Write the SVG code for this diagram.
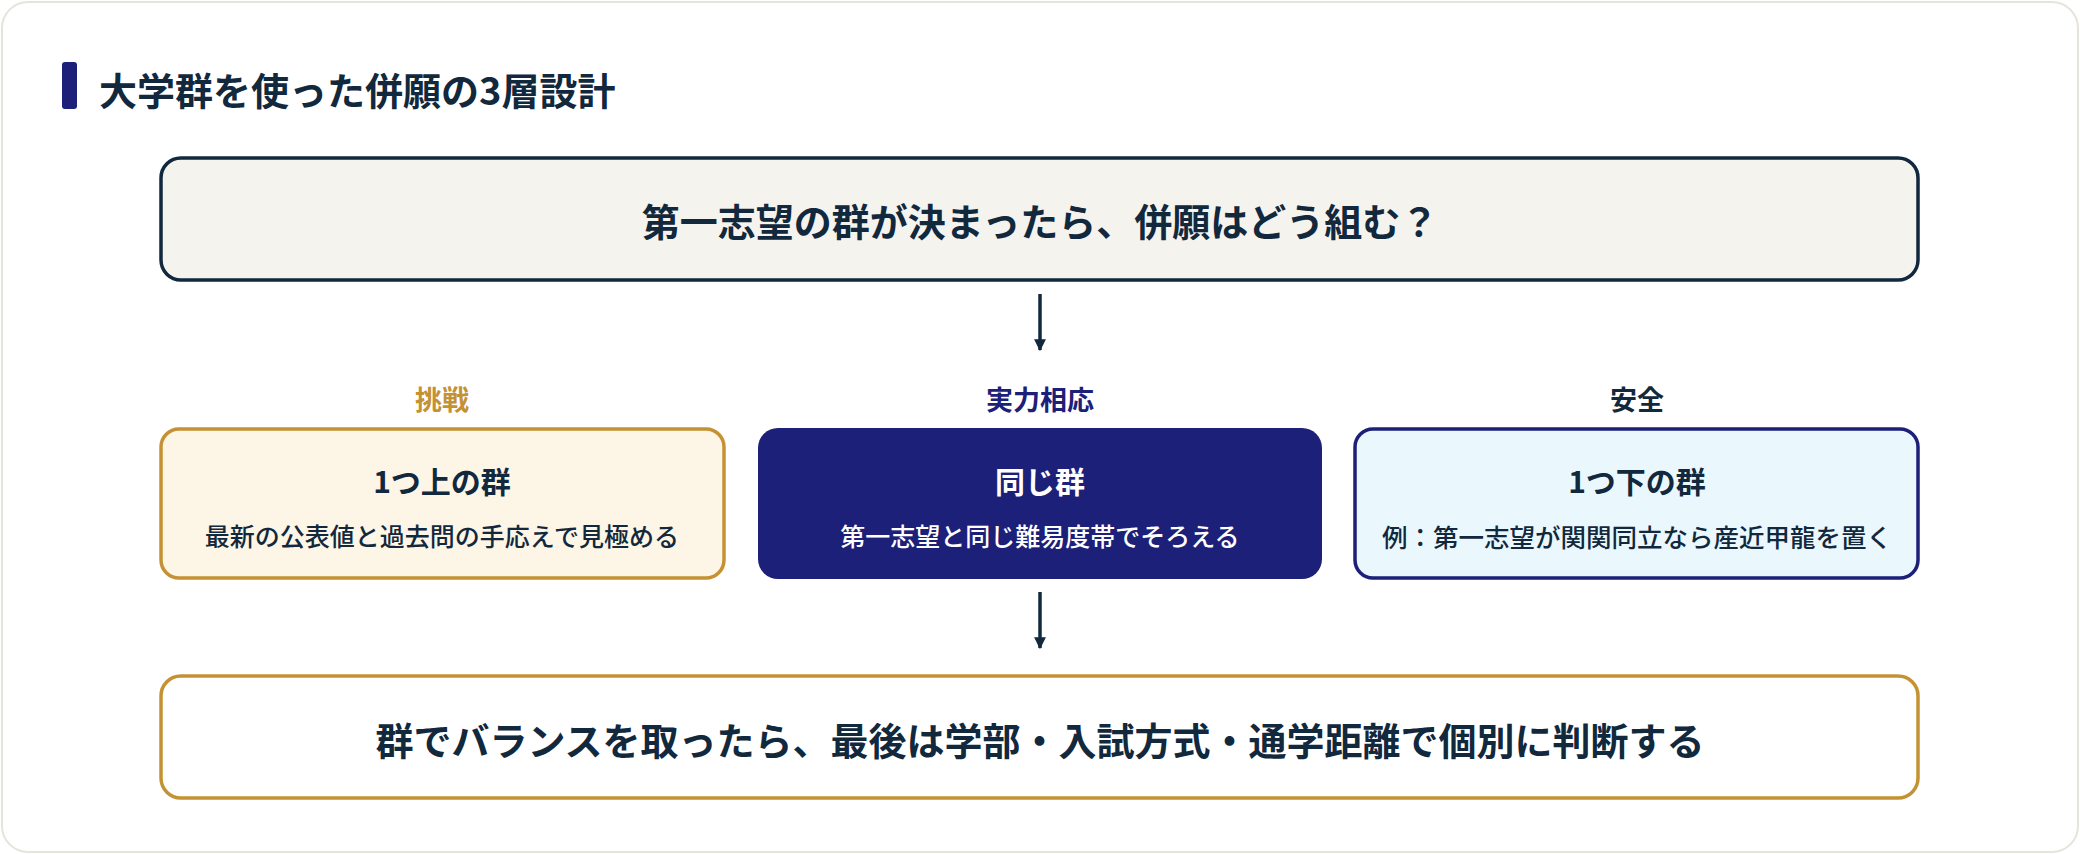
<svg xmlns="http://www.w3.org/2000/svg" width="2080" height="854" viewBox="0 0 2080 854">
<style>
text{font-family:"Noto Sans CJK JP","Noto Sans",sans-serif;font-weight:700;fill:#11283d;text-anchor:middle;dominant-baseline:central}
.conn{stroke:#11283d;stroke-width:3.5;fill:none}
</style>
<defs>
<marker id="ah" viewBox="0 0 10 10" refX="9" refY="5" markerWidth="3.4" markerHeight="3.4" markerUnits="strokeWidth" orient="auto"><path d="M0,0L10,5L0,10z" fill="#11283d"/></marker>
</defs>
<rect x="2" y="2" width="2076" height="850" rx="26" fill="#ffffff" stroke="#e6e3d8" stroke-width="2"/>
<g id="title">
<rect x="62" y="62" width="15" height="47" rx="3" fill="#1c2078"/>
<text x="99" y="88" style="text-anchor:start;font-size:38px">大学群を使った併願の3層設計</text>
</g>
<g id="top">
<rect x="161" y="158" width="1757" height="122" rx="20" fill="#f5f3ee" stroke="#11283d" stroke-width="3.5"/>
<text x="1040" y="219" style="font-size:38px">第一志望の群が決まったら、併願はどう組む？</text>
</g>
<g id="connectors">
<line class="conn" x1="1040" y1="294" x2="1040" y2="350" marker-end="url(#ah)"/>
<line class="conn" x1="1040" y1="592" x2="1040" y2="648" marker-end="url(#ah)"/>
</g>
<g id="challenge">
<text x="442" y="398" style="font-size:27px;fill:#c49235">挑戦</text>
<rect x="161" y="429" width="563" height="149" rx="18" fill="#fdf5e6" stroke="#c49235" stroke-width="3.5"/>
<text x="442" y="480" style="font-size:30px">1つ上の群</text>
<text x="442" y="535" style="font-size:25px;font-weight:500">最新の公表値と過去問の手応えで見極める</text>
</g>
<g id="match">
<text x="1040" y="398" style="font-size:27px;fill:#1c2078">実力相応</text>
<rect x="758" y="428" width="564" height="151" rx="20" fill="#1c2078"/>
<text x="1040" y="480" style="font-size:30px;fill:#ffffff">同じ群</text>
<text x="1040" y="535" style="font-size:25px;font-weight:500;fill:#ffffff">第一志望と同じ難易度帯でそろえる</text>
</g>
<g id="safe">
<text x="1637" y="398" style="font-size:27px">安全</text>
<rect x="1355" y="429" width="563" height="149" rx="18" fill="#eaf7fd" stroke="#1c2078" stroke-width="3.5"/>
<text x="1637" y="480" style="font-size:30px">1つ下の群</text>
<text x="1637" y="535" style="font-size:25.5px;font-weight:500">例：第一志望が関関同立なら産近甲龍を置く</text>
</g>
<g id="bottom">
<rect x="161" y="676" width="1757" height="122" rx="20" fill="#ffffff" stroke="#c49235" stroke-width="3.5"/>
<text x="1040" y="738" style="font-size:38px">群でバランスを取ったら、最後は学部・入試方式・通学距離で個別に判断する</text>
</g>
</svg>
